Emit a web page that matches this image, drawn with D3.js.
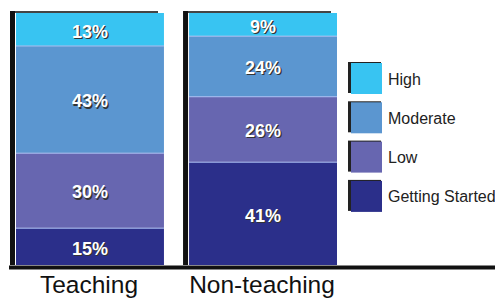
<!DOCTYPE html>
<html>
<head>
<meta charset="utf-8">
<script src="https://cdn.jsdelivr.net/npm/d3@7"></script>
<style>
  body { margin: 0; background: #fff; }
  text { font-family: 'Liberation Sans', Arial, sans-serif; }
</style>
</head>
<body>
<div id="chart"></div>
<script>
// DATA
let groups = ['Teaching', 'Non-teaching']
let levels = ['Getting Started', 'Low', 'Moderate', 'High']
let gettingStarted = [15, 41]
let low = [30, 26]
let moderate = [43, 24]
let high = [13, 9]
let legendOrder = ['High', 'Moderate', 'Low', 'Getting Started']

let width = 495, height = 301

let svg = d3.select('#chart')
  .append('svg')
  .attr('width', width)
  .attr('height', height)

let color = d3.scaleOrdinal()
  .domain(levels)
  .range(['#2b2f8a', '#6766b0', '#5b96d0', '#38c4f2'])

let rows = groups.map(function (g, i) {
  return {
    group: g,
    'Getting Started': gettingStarted[i],
    'Low': low[i],
    'Moderate': moderate[i],
    'High': high[i]
  }
})

// stack to 100% for each bar
let series = d3.stack().keys(levels).offset(d3.stackOffsetExpand)(rows)

let x = d3.scaleBand()
  .domain(groups)
  .range([16, 337])
  .paddingInner(0.145)

let y = d3.scaleLinear()
  .domain([0, 1])
  .range([265, 13])

// shadow behind each bar (thick black left edge, thin top edge)
svg.selectAll('.shadow')
  .data(groups)
  .enter().append('rect')
    .attr('class', 'shadow')
    .attr('x', function (d) { return x(d) - 6 })
    .attr('y', y(1) - 2)
    .attr('width', x.bandwidth())
    .attr('height', y(0) - y(1) + 2)
    .style('fill', '#111')

svg.selectAll('.shadow-top')
  .data(groups)
  .enter().append('rect')
    .attr('x', function (d) { return x(d) - 1 })
    .attr('y', y(1) - 2)
    .attr('width', x.bandwidth() - 5)
    .attr('height', 2)
    .style('fill', '#444')

svg.selectAll('.shadow-fill')
  .data(groups)
  .enter().append('rect')
    .attr('x', function (d) { return x(d) - 1 })
    .attr('y', y(1))
    .attr('width', x.bandwidth() - 5)
    .attr('height', y(0) - y(1))
    .style('fill', '#fff')

let layer = svg.selectAll('.layer')
  .data(series)
  .enter().append('g')
    .attr('class', 'layer')
    .style('fill', function (d) { return color(d.key) })

layer.selectAll('rect')
  .data(function (d) { return d })
  .enter().append('rect')
    .attr('x', function (d) { return x(d.data.group) })
    .attr('y', function (d) { return y(d[1]) })
    .attr('width', x.bandwidth())
    .attr('height', function (d) { return y(d[0]) - y(d[1]) })

// light separators between segments
layer.filter(function (d) { return d.key !== 'High' })
  .selectAll('line')
  .data(function (d) { return d })
  .enter().append('line')
    .attr('x1', function (d) { return x(d.data.group) })
    .attr('x2', function (d) { return x(d.data.group) + x.bandwidth() })
    .attr('y1', function (d) { return y(d[1]) + 0.5 })
    .attr('y2', function (d) { return y(d[1]) + 0.5 })
    .style('stroke', '#a8bdf0')
    .style('stroke-width', 1.2)

// value labels
let labelData = []
series.forEach(function (s) {
  s.forEach(function (d) {
    labelData.push({ group: d.data.group, value: d.data[s.key], y0: d[0], y1: d[1] })
  })
})

let labels = svg.selectAll('.val')
  .data(labelData)
  .enter().append('g')
    .attr('class', 'val')
    .attr('transform', function (d) {
      return 'translate(' + (x(d.group) + x.bandwidth() / 2) + ',' + ((y(d.y0) + y(d.y1)) / 2 + 2) + ')'
    })

labels.append('text')
  .attr('x', 1.2)
  .attr('y', 1.2)
  .attr('dy', '0.35em')
  .style('text-anchor', 'middle')
  .style('font-size', '18px')
  .style('font-weight', 700)
  .style('fill', '#333')
  .text(function (d) { return d.value + '%' })

labels.append('text')
  .attr('dy', '0.35em')
  .style('text-anchor', 'middle')
  .style('font-size', '18px')
  .style('font-weight', 700)
  .style('fill', '#fff')
  .text(function (d) { return d.value + '%' })

// baseline
svg.append('line')
  .attr('x1', 9)
  .attr('x2', width)
  .attr('y1', 267.5)
  .attr('y2', 267.5)
  .style('stroke', '#111')
  .style('stroke-width', 4)

// category labels
svg.selectAll('.cat')
  .data(groups)
  .enter().append('text')
    .attr('class', 'cat')
    .attr('x', function (d) { return x(d) + x.bandwidth() / 2 - 1 })
    .attr('y', 293)
    .style('text-anchor', 'middle')
    .style('font-size', '24.5px')
    .style('fill', '#111')
    .text(function (d) { return d })

// LEGEND
let legend = svg.selectAll('.legend')
  .data(legendOrder)
  .enter().append('g')
    .attr('class', 'legend')
    .attr('transform', function (d, i) { return 'translate(348,' + (62 + i * 39.3) + ')' })

legend.append('rect')
  .attr('x', 0)
  .attr('y', 0)
  .attr('width', 33)
  .attr('height', 31)
  .style('fill', '#222')

legend.append('rect')
  .attr('x', 3)
  .attr('y', 1)
  .attr('width', 31)
  .attr('height', 31)
  .style('fill', function (d) { return color(d) })

legend.append('text')
  .attr('x', 40)
  .attr('y', 17)
  .attr('dy', '0.35em')
  .style('font-size', '16px')
  .style('fill', '#222')
  .text(function (d) { return d })
</script>
</body>
</html>
